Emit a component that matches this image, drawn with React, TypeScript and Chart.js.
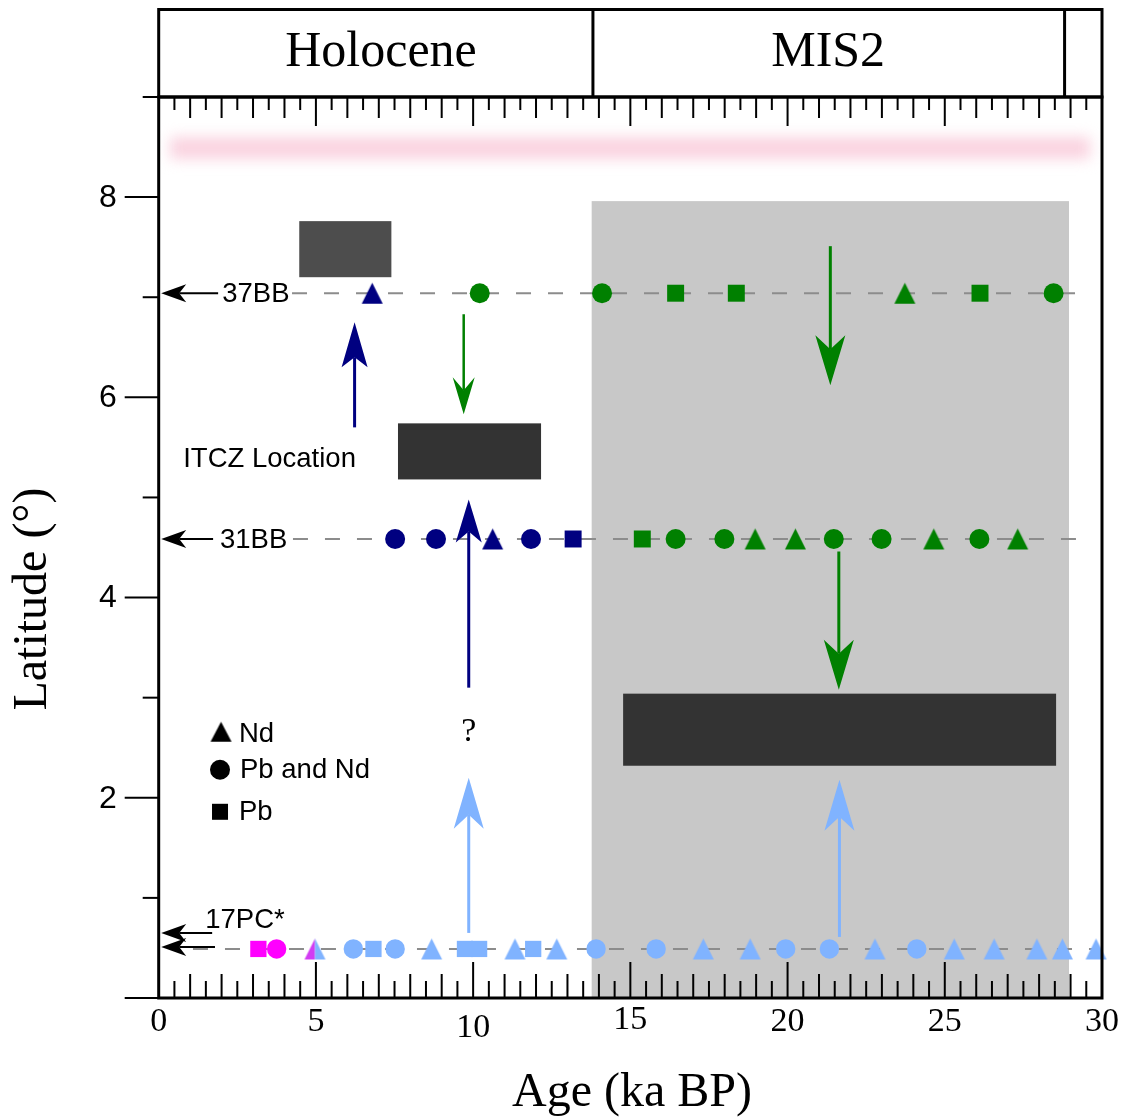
import React, { useEffect, useRef } from 'react';
import { Chart, registerables } from 'chart.js';

Chart.register(...registerables);

// Core-site latitudes (°N)
const LAT_37BB = 7.04;
const LAT_31BB = 4.585;
const LAT_17PC = 0.49;

// Sample ages (ka BP) per core, record type and colour group
const bb37NavyNd = [6.79];
const bb37GreenPbNd = [10.21, 14.1, 28.46];
const bb37GreenPb = [16.44, 18.37, 26.12];
const bb37GreenNd = [23.73];

const bb31NavyPbNd = [7.52, 8.82, 11.84];
const bb31NavyNd = [10.62];
const bb31NavyPb = [13.18];
const bb31GreenPb = [15.38];
const bb31GreenPbNd = [16.44, 17.99, 21.47, 22.99, 26.1];
const bb31GreenNd = [18.97, 20.25, 24.65, 27.32];

const pc17MagentaPb = [3.17];
const pc17MagentaPbNd = [3.75];
const pc17MixedNd = [4.97];
const pc17BluePbNd = [6.19, 7.52, 13.91, 15.82, 19.94, 21.33, 24.11];
const pc17BluePb = [6.83, 9.74, 10.19, 11.91];
const pc17BlueNd = [8.68, 11.33, 12.66, 17.32, 18.81, 22.78, 25.3, 26.57, 27.93, 28.74, 29.81];

// Age span (ka) of the dashed track drawn for each core
const track37BB = [4.24, 29.55];
const track31BB = [4.27, 29.6];
const track17PC = [1.09, 29.9];

// Inferred ITCZ positions: [ageFrom, ageTo, latFrom, latTo]
const itczBoxes = [
  [4.47, 7.4, 7.2, 7.76],
  [7.61, 12.16, 5.18, 5.74],
  [14.77, 28.54, 2.32, 3.04],
];

// Glacial shading [ageFrom, ageTo, latFrom, latTo] and the modern-ITCZ band [ageFrom, ageTo, lat]
const glacialShade = [13.77, 28.95, 0, 7.96];
const modernBand = [0.36, 29.62, 8.49];

// Time periods along the top
const periodNames = ['Holocene', 'MIS2'];
const periodBounds = [13.81, 28.81];
const periodLabelAges = [7.07, 21.29];

// Migration arrows: [age, latFrom, latTo]
const navyArrows = [
  [6.23, 5.7, 6.75],
  [9.86, 3.1, 4.98],
];
const greenArrows = [
  [9.7, 6.83, 5.83],
  [21.36, 7.51, 6.12],
  [21.63, 4.46, 3.08],
];
const blueArrows = [
  [9.86, 0.65, 2.2],
  [21.65, 0.61, 2.18],
];

// Axis ticks
const xTickValues = [0, 5, 10, 15, 20, 25, 30];
const xTickLabels = ['0', '5', '10', '15', '20', '25', '30'];
const yTickValues = [2, 4, 6, 8];
const yTickLabels = ['2', '4', '6', '8'];

const legendLabels = ['Nd', 'Pb and Nd', 'Pb'];

const NAVY = '#000080';
const GREEN = '#008000';
const SKY = '#80b3ff';
const MAGENTA = '#ff00ff';
const VIOLET = '#d23cf2';
const TRACK = '#8c8c8c';
const SERIF = '"Liberation Serif", "Times New Roman", serif';
const SANS = '"Liberation Sans", Arial, sans-serif';

function makeTriangle(left: string, right: string, w = 21, h = 21): HTMLCanvasElement {
  const c = document.createElement('canvas');
  c.width = w + 2;
  c.height = h + 2;
  const g = c.getContext('2d')!;
  const path = () => {
    g.beginPath();
    g.moveTo(1 + w / 2, 1);
    g.lineTo(1 + w, 1 + h);
    g.lineTo(1, 1 + h);
    g.closePath();
  };
  if (left === right) {
    path();
    g.fillStyle = left;
    g.fill();
  } else {
    g.save();
    g.beginPath();
    g.rect(0, 0, 1 + w / 2, h + 2);
    g.clip();
    path();
    g.fillStyle = left;
    g.fill();
    g.restore();
    g.save();
    g.beginPath();
    g.rect(1 + w / 2, 0, w, h + 2);
    g.clip();
    path();
    g.fillStyle = right;
    g.fill();
    g.restore();
  }
  return c;
}

type HeadStyle = { lw: number; L: number; hw: number; n: number };

function drawArrow(
  ctx: CanvasRenderingContext2D,
  x0: number, y0: number, x1: number, y1: number,
  color: string, s: HeadStyle
) {
  const len = Math.hypot(x1 - x0, y1 - y0);
  const dx = (x1 - x0) / len;
  const dy = (y1 - y0) / len;
  const nx = x1 - dx * (s.L - s.n);
  const ny = y1 - dy * (s.L - s.n);
  const bx = x1 - dx * s.L;
  const by = y1 - dy * s.L;
  ctx.save();
  ctx.strokeStyle = color;
  ctx.fillStyle = color;
  ctx.lineWidth = s.lw;
  ctx.beginPath();
  ctx.moveTo(x0, y0);
  ctx.lineTo(nx, ny);
  ctx.stroke();
  ctx.beginPath();
  ctx.moveTo(x1, y1);
  ctx.lineTo(bx - dy * s.hw, by + dx * s.hw);
  ctx.lineTo(nx, ny);
  ctx.lineTo(bx + dy * s.hw, by - dx * s.hw);
  ctx.closePath();
  ctx.fill();
  ctx.restore();
}

const overlay = {
  id: 'paleoOverlay',
  beforeDatasetsDraw(chart: any) {
    const { ctx, scales } = chart;
    const px = (v: number) => scales.x.getPixelForValue(v);
    const py = (v: number) => scales.y.getPixelForValue(v);
    ctx.save();
    // modern ITCZ band, soft-edged
    ctx.filter = 'blur(7px)';
    ctx.fillStyle = '#fad3e0';
    ctx.fillRect(px(modernBand[0]), py(modernBand[2]) - 11, px(modernBand[1]) - px(modernBand[0]), 22);
    ctx.filter = 'none';
    // MIS2 shading
    ctx.fillStyle = '#c8c8c8';
    ctx.fillRect(
      px(glacialShade[0]), py(glacialShade[3]),
      px(glacialShade[1]) - px(glacialShade[0]), py(glacialShade[2]) - py(glacialShade[3])
    );
    // ITCZ location boxes
    const boxColors = ['#4d4d4d', '#333333', '#333333'];
    itczBoxes.forEach((b, i) => {
      ctx.fillStyle = boxColors[i];
      ctx.fillRect(px(b[0]), py(b[3]), px(b[1]) - px(b[0]), py(b[2]) - py(b[3]));
    });
    ctx.restore();
  },
  afterDatasetsDraw(chart: any) {
    const { ctx, scales, chartArea } = chart;
    const { left, right, top, bottom } = chartArea;
    const px = (v: number) => scales.x.getPixelForValue(v);
    const py = (v: number) => scales.y.getPixelForValue(v);
    ctx.save();

    // migration arrows
    const navyHeads: HeadStyle[] = [
      { lw: 3, L: 45, hw: 13, n: 10 },
      { lw: 3, L: 43, hw: 13, n: 11 },
    ];
    const greenHeads: HeadStyle[] = [
      { lw: 2.5, L: 37, hw: 11, n: 13 },
      { lw: 3, L: 50, hw: 15, n: 14 },
      { lw: 3, L: 50, hw: 15, n: 14 },
    ];
    const blueHeads: HeadStyle[] = [
      { lw: 3, L: 51, hw: 15, n: 14 },
      { lw: 3, L: 51, hw: 15, n: 14 },
    ];
    navyArrows.forEach((a, i) => drawArrow(ctx, px(a[0]), py(a[1]), px(a[0]), py(a[2]), NAVY, navyHeads[i]));
    greenArrows.forEach((a, i) => drawArrow(ctx, px(a[0]), py(a[1]), px(a[0]), py(a[2]), GREEN, greenHeads[i]));
    blueArrows.forEach((a, i) => drawArrow(ctx, px(a[0]), py(a[1]), px(a[0]), py(a[2]), SKY, blueHeads[i]));

    // core-site pointers to the latitude axis
    const pointerHead: HeadStyle = { lw: 2, L: 25, hw: 9, n: 7 };
    const pointers = [
      [1.89, LAT_37BB],
      [1.73, LAT_31BB],
      [1.7, 0.65],
      [1.79, 0.51],
    ];
    pointers.forEach((p) => drawArrow(ctx, px(p[0]), py(p[1]), left + 2.5, py(p[1]), '#000', pointerHead));

    ctx.fillStyle = '#000';
    ctx.font = `27.5px ${SANS}`;
    ctx.textAlign = 'left';
    ctx.textBaseline = 'middle';
    ctx.fillText('37BB', px(2.02), py(LAT_37BB) + 1);
    ctx.fillText('31BB', px(1.95), py(LAT_31BB) + 1);
    ctx.fillText('17PC*', px(1.48), py(0.77));
    ctx.font = `27.5px ${SANS}`;
    ctx.fillText('ITCZ Location', px(0.78), py(5.375));

    // "?" beside the uncertain arrow
    ctx.font = `34px ${SERIF}`;
    ctx.textAlign = 'center';
    ctx.fillText('?', px(9.86), py(2.66));

    // symbol legend
    const tri = makeTriangle('#000', '#000', 21, 20);
    const lx = px(1.95);
    const rowY = [py(2.64), py(2.28), py(1.86)];
    ctx.drawImage(tri, lx - tri.width / 2 + 1, rowY[0] - tri.height / 2 - 2);
    ctx.beginPath();
    ctx.arc(lx, rowY[1], 10, 0, Math.PI * 2);
    ctx.fill();
    ctx.fillRect(lx - 8, rowY[2] - 8, 16, 16);
    ctx.font = `27.5px ${SANS}`;
    ctx.textAlign = 'left';
    legendLabels.forEach((t, i) => ctx.fillText(t, lx + (i === 1 ? 20 : 19), rowY[i] + 1));

    // plot frame
    ctx.strokeStyle = '#000';
    ctx.lineWidth = 3;
    ctx.strokeRect(left, top, right - left, bottom - top);
    // period band above the plot
    const bandTop = 9.5;
    ctx.strokeRect(left, bandTop, right - left, top - bandTop);
    periodBounds.forEach((b) => {
      ctx.beginPath();
      ctx.moveTo(px(b), bandTop);
      ctx.lineTo(px(b), top);
      ctx.stroke();
    });
    ctx.font = `50px ${SERIF}`;
    ctx.textAlign = 'center';
    ctx.textBaseline = 'alphabetic';
    periodNames.forEach((n, i) => ctx.fillText(n, px(periodLabelAges[i]), 66));

    // inward ticks on the age axes
    ctx.lineWidth = 2;
    for (let i = 1; i < 60; i++) {
      const xx = px(i / 2);
      const lb = i % 10 === 0 ? 36 : i % 2 === 0 ? 24 : 17;
      const lt = i % 10 === 0 ? 29 : i % 2 === 0 ? 21 : 13;
      ctx.beginPath();
      ctx.moveTo(xx, bottom);
      ctx.lineTo(xx, bottom - lb);
      ctx.moveTo(xx, top);
      ctx.lineTo(xx, top + lt);
      ctx.stroke();
    }
    // outward ticks on the latitude axis
    for (let v = 0; v <= 9; v++) {
      const yy = py(v);
      const l = v % 2 === 0 ? 34 : 16;
      ctx.beginPath();
      ctx.moveTo(left, yy);
      ctx.lineTo(left - l, yy);
      ctx.stroke();
    }

    // tick labels
    ctx.font = `34px ${SERIF}`;
    ctx.textAlign = 'center';
    ctx.textBaseline = 'middle';
    const xLabelShift = [0, 0, 6, -2, 0, 0, 0];
    xTickValues.forEach((v, i) => ctx.fillText(xTickLabels[i], px(v), bottom + 24 + xLabelShift[i]));
    ctx.font = `32px ${SANS}`;
    ctx.textAlign = 'right';
    yTickValues.forEach((v, i) => ctx.fillText(yTickLabels[i], left - 42, py(v) + 1));

    // axis titles
    ctx.font = `48px ${SERIF}`;
    ctx.textAlign = 'center';
    ctx.fillText('Age (ka BP)', 632, 1093);
    ctx.save();
    ctx.translate(33, 599);
    ctx.rotate(-Math.PI / 2);
    ctx.fillText('Latitude (°)', 0, 0);
    ctx.restore();

    ctx.restore();
  },
};

export default function App() {
  const ref = useRef<HTMLCanvasElement>(null);

  useEffect(() => {
    const canvas = ref.current;
    if (!canvas) return;

    const navyTri = makeTriangle(NAVY, NAVY);
    const greenTri = makeTriangle(GREEN, GREEN);
    const skyTri = makeTriangle(SKY, SKY);
    const mixedTri = makeTriangle(VIOLET, SKY);

    const marks = (ages: number[], lat: number, style: any, color: string, radius: number) => ({
      data: ages.map((a) => ({ x: a, y: lat })),
      pointStyle: style,
      pointRadius: radius,
      pointHoverRadius: radius,
      backgroundColor: color,
      borderWidth: 0,
      showLine: false,
      order: 0,
      clip: false as const,
    });
    const track = (span: number[], lat: number) => ({
      data: [
        { x: span[0], y: lat },
        { x: span[1], y: lat },
      ],
      showLine: true,
      borderColor: TRACK,
      borderWidth: 2,
      borderDash: [15, 17],
      pointRadius: 0,
      pointHoverRadius: 0,
      order: 1,
      clip: false as const,
    });

    const chart = new Chart(canvas, {
      type: 'scatter',
      data: {
        datasets: [
          track(track37BB, LAT_37BB),
          track(track31BB, LAT_31BB),
          track(track17PC, LAT_17PC),
          marks(bb37NavyNd, LAT_37BB, navyTri, NAVY, 11),
          marks(bb37GreenPbNd, LAT_37BB, 'circle', GREEN, 10),
          marks(bb37GreenPb, LAT_37BB, 'rect', GREEN, 12),
          marks(bb37GreenNd, LAT_37BB, greenTri, GREEN, 11),
          marks(bb31NavyPbNd, LAT_31BB, 'circle', NAVY, 10),
          marks(bb31NavyNd, LAT_31BB, navyTri, NAVY, 11),
          marks(bb31NavyPb, LAT_31BB, 'rect', NAVY, 12),
          marks(bb31GreenPb, LAT_31BB, 'rect', GREEN, 12),
          marks(bb31GreenPbNd, LAT_31BB, 'circle', GREEN, 10),
          marks(bb31GreenNd, LAT_31BB, greenTri, GREEN, 11),
          marks(pc17BluePbNd, LAT_17PC, 'circle', SKY, 9.7),
          marks(pc17BluePb, LAT_17PC, 'rect', SKY, 11.5),
          marks(pc17BlueNd, LAT_17PC, skyTri, SKY, 11),
          marks(pc17MixedNd, LAT_17PC, mixedTri, SKY, 11),
          marks(pc17MagentaPb, LAT_17PC, 'rect', MAGENTA, 11.5),
          marks(pc17MagentaPbNd, LAT_17PC, 'circle', MAGENTA, 9.7),
        ] as any,
      },
      options: {
        responsive: false,
        animation: false,
        devicePixelRatio: 1,
        events: [],
        layout: { padding: { left: 158.7, right: 24, top: 97, bottom: 120 } },
        scales: {
          x: { type: 'linear', min: 0, max: 30, display: false },
          y: { type: 'linear', min: 0, max: 9, display: false },
        },
        plugins: {
          legend: { display: false },
          tooltip: { enabled: false },
        },
      },
      plugins: [overlay],
    });

    return () => chart.destroy();
  }, []);

  return (
    <div style={{ position: 'fixed', left: 0, top: 0, width: 1126, height: 1118, background: '#fff' }}>
      <canvas ref={ref} width={1126} height={1118} style={{ display: 'block' }} />
    </div>
  );
}
